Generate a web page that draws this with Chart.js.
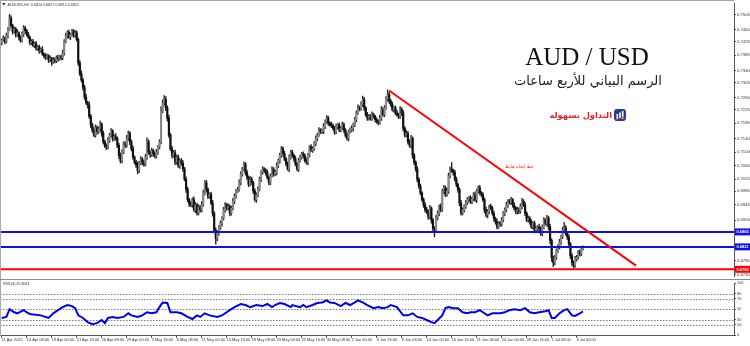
<!DOCTYPE html>
<html>
<head>
<meta charset="utf-8">
<script src="https://cdn.jsdelivr.net/npm/chart.js@4.4.1/dist/chart.umd.min.js"></script>
<style>
html, body { margin: 0; padding: 0; background: #fff; }
#wrap { position: relative; width: 750px; height: 346px; overflow: hidden; background: #fff; }
#main { position: absolute; left: 0; top: 0; }
#rsi { position: absolute; left: 0; top: 280px; }
.txt { position: absolute; white-space: nowrap; }
#pair { left: 487px; top: 44px; width: 200px; text-align: center; font: 25px/25px "Liberation Serif", serif; color: #111; }
#sub { left: 488px; top: 73px; width: 200px; text-align: center; font: 13px/16px "DejaVu Sans", sans-serif; color: #222; direction: rtl; }
#brand { left: 520px; top: 109px; width: 92px; text-align: right; font: bold 8.3px/12px "DejaVu Sans", sans-serif; color: #e8212e; direction: rtl; }
#logo { position: absolute; left: 614px; top: 108px; }
</style>
</head>
<body>
<div id="wrap">
  <canvas id="main" width="750" height="280"></canvas>
  <canvas id="rsi" width="750" height="66"></canvas>
  <div class="txt" id="pair">AUD / USD</div>
  <div class="txt" id="sub">الرسم البياني للأربع ساعات</div>
  <div class="txt" id="brand">التداول بسهولة</div>
  <svg id="logo" width="12" height="14" viewBox="0 0 12 14">
    <rect x="0" y="1" width="12" height="12" rx="3" fill="#1f3f9a"/>
    <rect x="2.5" y="6" width="1.6" height="5" fill="#fff"/>
    <rect x="5.2" y="4.5" width="1.6" height="6.5" fill="#fff"/>
    <rect x="7.9" y="3" width="1.6" height="8" fill="#fff"/>
    <path d="M1 12 L11 9" stroke="#e8212e" stroke-width="1.2"/>
  </svg>
</div>
<script>
// AUDUSD H4, 11 Apr 2022 -> 6 Jul 2022, one close per 4h bar (open = previous close)
var firstOpen = 0.7420;
var closes = [
  0.7429,0.7436,0.7425,0.7442,0.7461,0.7494,0.7472,0.7455,0.7462,0.7444,
  0.7451,0.7437,0.7428,0.7446,0.7465,0.7457,0.7446,0.7438,0.7422,0.7426,
  0.7414,0.7419,0.7405,0.7410,0.7398,0.7402,0.7389,0.7384,0.7378,0.7383,
  0.7371,0.7376,0.7365,0.7372,0.7368,0.7379,0.7374,0.7381,0.7377,0.7392,
  0.7425,0.7441,0.7452,0.7439,0.7446,0.7455,0.7443,0.7450,0.7431,0.7362,
  0.7330,0.7312,0.7290,0.7262,0.7245,0.7238,0.7205,0.7180,0.7165,0.7150,
  0.7172,0.7160,0.7168,0.7182,0.7155,0.7130,0.7118,0.7115,0.7135,0.7150,
  0.7162,0.7140,0.7145,0.7140,0.7120,0.7090,0.7075,0.7100,0.7125,0.7120,
  0.7140,0.7155,0.7130,0.7110,0.7085,0.7070,0.7062,0.7045,0.7068,0.7080,
  0.7070,0.7064,0.7085,0.7130,0.7100,0.7092,0.7105,0.7095,0.7088,0.7100,
  0.7115,0.7130,0.7220,0.7244,0.7255,0.7230,0.7200,0.7150,0.7110,0.7090,
  0.7098,0.7070,0.7085,0.7060,0.7075,0.7067,0.7050,0.7020,0.6990,0.6960,
  0.6948,0.6945,0.6960,0.6930,0.6945,0.6920,0.6938,0.6930,0.6945,0.6980,
  0.7010,0.6990,0.6970,0.6976,0.6950,0.6920,0.6870,0.6845,0.6860,0.6878,
  0.6890,0.6905,0.6930,0.6945,0.6935,0.6940,0.6920,0.6935,0.6955,0.6970,
  0.6985,0.6990,0.7010,0.7035,0.7050,0.7065,0.7040,0.7025,0.7005,0.7020,
  0.7010,0.6985,0.6960,0.6975,0.6990,0.7020,0.7040,0.7050,0.7045,0.7040,
  0.7025,0.7010,0.7030,0.7050,0.7035,0.7040,0.7060,0.7075,0.7090,0.7110,
  0.7095,0.7080,0.7065,0.7050,0.7085,0.7100,0.7090,0.7080,0.7065,0.7050,
  0.7075,0.7085,0.7095,0.7090,0.7075,0.7070,0.7090,0.7115,0.7105,0.7110,
  0.7125,0.7140,0.7150,0.7165,0.7160,0.7162,0.7175,0.7190,0.7200,0.7185,
  0.7180,0.7178,0.7170,0.7160,0.7175,0.7180,0.7165,0.7170,0.7180,0.7165,
  0.7150,0.7140,0.7160,0.7165,0.7170,0.7180,0.7195,0.7215,0.7230,0.7228,
  0.7240,0.7255,0.7230,0.7210,0.7200,0.7205,0.7198,0.7210,0.7205,0.7195,
  0.7190,0.7186,0.7200,0.7225,0.7210,0.7230,0.7255,0.7270,0.7250,0.7240,
  0.7225,0.7230,0.7215,0.7210,0.7205,0.7225,0.7215,0.7170,0.7150,0.7155,
  0.7130,0.7120,0.7140,0.7090,0.7070,0.7050,0.7020,0.7000,0.6980,0.6960,
  0.6945,0.6930,0.6925,0.6910,0.6935,0.6900,0.6875,0.6870,0.6905,0.6920,
  0.6940,0.6930,0.6985,0.6995,0.6975,0.6985,0.7030,0.7050,0.7045,0.7040,
  0.7020,0.7005,0.6990,0.6950,0.6920,0.6930,0.6940,0.6950,0.6960,0.6965,
  0.6955,0.6962,0.6975,0.6960,0.6985,0.6995,0.6980,0.6975,0.6960,0.6930,
  0.6915,0.6925,0.6940,0.6935,0.6920,0.6905,0.6895,0.6880,0.6890,0.6888,
  0.6900,0.6920,0.6930,0.6945,0.6955,0.6952,0.6960,0.6945,0.6935,0.6925,
  0.6930,0.6925,0.6940,0.6955,0.6945,0.6920,0.6900,0.6905,0.6895,0.6880,
  0.6890,0.6870,0.6875,0.6880,0.6875,0.6860,0.6880,0.6900,0.6890,0.6905,
  0.6880,0.6840,0.6790,0.6775,0.6790,0.6810,0.6820,0.6835,0.6850,0.6870,
  0.6878,0.6860,0.6850,0.6830,0.6795,0.6775,0.6768,0.6785,0.6790,0.6805,
  0.6800,0.6815,0.6821
];
// wick lengths beyond the body, in pips
var wickUp = [
  4,6,3,8,5,11,7,4,6,5,9,3,6,8,7,5,4,6,3,5,
  6,4,7,3,5,4,8,3,6,5,4,7,3,6,5,4,6,3,5,8,
  6,9,5,7,4,6,5,8,6,4,7,9,5,6,8,4,10,6,5,7,
  8,5,6,9,4,7,5,6,8,5,7,4,6,9,5,6,8,7,5,6,
  9,7,5,6,8,4,6,9,5,7,4,6,8,12,6,5,7,4,6,8,
  5,7,14,10,11,8,6,9,5,7,6,8,5,7,4,6,8,5,6,7,
  4,6,5,8,6,4,7,5,9,8,6,7,5,4,6,8,5,7,9,6,
  8,5,7,6,4,8,5,6,9,7,5,6,8,7,5,6,4,7,5,8,
  6,4,7,5,8,6,5,7,4,6,8,5,6,7,4,6,8,5,7,6,
  5,8,4,6,7,5,6,4,8,5,7,6,4,6,5,8,6,4,7,5,
  6,8,5,7,4,6,9,5,7,6,4,8,5,6,7,4,6,5,8,6,
  4,7,5,6,8,5,7,6,9,5,8,10,6,4,7,5,6,8,5,4,
  6,5,8,9,6,7,8,13,6,5,7,4,6,8,5,9,6,7,5,8,
  6,7,9,5,6,4,7,5,6,4,5,6,7,5,8,4,5,6,9,7,
  5,8,6,7,5,9,8,6,19,5,7,6,4,5,8,6,5,7,6,4,
  7,5,6,8,6,5,7,4,6,5,8,6,4,7,5,6,4,8,5,6,
  7,5,6,8,5,6,7,4,6,5,7,6,8,9,5,6,4,7,5,6,
  5,7,6,4,8,5,6,7,5,9,6,7,5,4,6,5,7,8,6,9,
  15,6,5,7,4,6,5,8,6,5,7,4,3
];
var wickDn = [
  5,3,7,4,6,3,5,8,4,6,3,7,5,4,6,8,5,4,7,6,
  4,7,5,6,8,4,5,7,6,4,8,5,10,4,6,5,7,4,6,5,
  7,4,6,5,8,4,6,5,4,7,5,6,8,7,5,9,6,8,7,5,
  6,8,5,7,9,6,5,8,6,7,5,8,6,5,7,9,8,6,5,7,
  6,5,8,7,6,5,7,9,6,5,8,6,5,7,6,8,5,7,6,5,
  7,6,5,4,6,8,9,7,6,8,5,7,6,5,8,6,7,5,9,6,
  8,6,7,5,8,6,5,7,6,4,6,8,7,6,5,9,8,16,6,5,
  6,8,5,7,6,5,8,6,5,7,6,4,5,7,6,5,8,6,7,5,
  6,7,5,8,6,4,7,5,6,8,5,7,6,4,6,5,7,6,8,5,
  7,5,6,4,8,6,5,7,6,5,8,4,6,7,5,6,8,5,4,6,
  5,6,7,4,6,5,8,6,5,7,4,6,5,8,6,7,5,6,4,7,
  6,5,7,4,6,8,5,6,4,7,5,6,8,5,7,6,4,5,6,7,
  5,6,4,7,5,6,4,5,7,6,5,8,6,5,7,6,9,8,6,5,
  7,6,8,9,7,6,8,7,6,5,8,7,6,8,5,9,7,20,6,5,
  7,6,5,8,6,5,7,6,5,8,6,7,9,8,6,5,7,6,5,8,
  6,7,5,6,8,5,6,7,5,8,6,9,7,5,6,8,7,6,5,7,
  6,5,7,6,8,5,6,7,5,6,8,6,5,7,6,8,5,6,7,5,
  6,8,5,7,6,5,7,6,5,8,9,10,12,12,7,6,5,6,7,5,
  6,5,7,8,9,10,10,7,6,5,6,5,4
];

// RSI: bar index and value
var rsiBars = [0,3,5,8,10,14,17,19,25,28,30,33,36,39,42,45,47,49,52,55,
  58,61,64,66,68,71,74,78,81,83,87,90,93,96,99,101,103,106,108,112,
  115,119,122,125,127,130,133,138,141,144,146,149,153,156,159,163,167,170,173,175,
  178,181,185,186,191,193,195,199,202,205,208,210,213,217,220,223,226,228,231,234,
  238,241,244,247,249,253,257,260,263,266,269,272,275,277,279,282,284,286,289,292,
  295,298,300,303,306,308,311,314,317,319,322,325,328,332,335,338,341,344,348,350,
  352,354,357,360,362,365,367,370,372];
var rsiValues = [33,35,50,44,42,48,42,40,38,35,33,42,48,54,58,56,52,38,33,25,
  21,23,29,23,33,35,33,35,42,38,35,38,44,42,44,54,63,62,44,44,
  42,35,31,38,35,42,38,35,38,44,48,54,60,58,54,58,56,60,54,58,
  62,60,54,58,54,58,54,58,62,63,67,63,62,56,62,58,63,67,63,58,
  52,54,52,54,58,54,38,38,42,35,33,29,25,23,29,38,52,54,52,52,
  44,42,44,44,48,44,38,42,42,42,44,48,50,48,52,44,42,44,46,48,
  33,33,42,48,50,38,37,42,45.8];

var priceTicks = [0.7505,0.7460,0.7425,0.7385,0.7340,0.7305,0.7260,0.7225,0.7185,0.7140,
  0.7100,0.7060,0.7020,0.6985,0.6945,0.6900,0.6860,0.6820,0.6780,0.6740];
var rsiTicks = [0,20,30,50,70,80,100];
var rsiLevels = [20,30,50,70,80];
var timeLabels = ['11 Apr 2022','14 Apr 08:00','19 Apr 00:00','21 Apr 16:00','26 Apr 08:00',
  '29 Apr 00:00','3 May 16:00','6 May 08:00','11 May 00:00','13 May 16:00','18 May 08:00',
  '23 May 00:00','25 May 16:00','30 May 08:00','2 Jun 00:00','6 Jun 16:00','9 Jun 08:00',
  '14 Jun 00:00','16 Jun 16:00','21 Jun 08:00','24 Jun 00:00','28 Jun 16:00','1 Jul 08:00',
  '6 Jul 00:00'];
var barsPerLabel = 16;

var levelPrices = [0.6865, 0.6821, 0.6755];
var trendBars = [247.9, 406];
var trendPrices = [0.7281, 0.6766];

var headerText = 'AUDUSD,H4  0.6814 0.6822 0.6812 0.6821';
var rsiTitle = 'RSI(14) 45.8043';
var trendText = 'خط إتجاه هابط';

// ---------------------------------------------------------------
var X_MIN = -1.1, X_MAX = 468.7;
var levelColors = ['#1010e0', '#1010e0', '#ff0000'];

var opens = closes.map(function (c, i) { return i === 0 ? firstOpen : closes[i - 1]; });
var highs = closes.map(function (c, i) { return Math.max(opens[i], c) + wickUp[i] / 10000; });
var lows = closes.map(function (c, i) { return Math.min(opens[i], c) - wickDn[i] / 10000; });

Chart.defaults.animation = false;
Chart.defaults.font.family = '"Liberation Sans", Arial, sans-serif';
Chart.defaults.plugins.legend.display = false;
Chart.defaults.plugins.tooltip.enabled = false;

var levelSets = levelPrices.map(function (p, k) {
  return {
    type: 'line',
    data: [{ x: X_MIN, y: p }, { x: X_MAX, y: p }],
    borderColor: levelColors[k],
    borderWidth: 2,
    pointRadius: 0,
    order: 0
  };
});

var mainDecor = {
  id: 'mainDecor',
  afterDraw: function (chart) {
    var ctx = chart.ctx, ys = chart.scales.y, a = chart.chartArea;
    ctx.save();
    ctx.fillStyle = '#a8a8a8';
    ctx.fillRect(0, 0, a.right, 1);
    ctx.fillRect(0, 0, 1, 280);
    ctx.fillStyle = '#8c8c8c';
    ctx.fillRect(0, 279, 750, 1);
    // header line
    ctx.fillStyle = '#333';
    ctx.beginPath();
    ctx.moveTo(2, 3); ctx.lineTo(5.5, 3); ctx.lineTo(3.75, 5.5); ctx.closePath();
    ctx.fill();
    ctx.font = '3.7px "Liberation Sans"';
    ctx.textBaseline = 'middle';
    ctx.textAlign = 'left';
    ctx.fillText(headerText, 7.5, 4.5);
    // price boxes on the axis
    ctx.font = 'bold 4px "Liberation Sans"';
    levelPrices.forEach(function (p, k) {
      var y = ys.getPixelForValue(p);
      ctx.fillStyle = levelColors[k];
      ctx.fillRect(a.right + 1, y - 3.5, 15, 7);
      ctx.fillStyle = '#fff';
      ctx.fillText(p.toFixed(4), a.right + 2.5, y + 0.3);
    });
    // trend label
    ctx.fillStyle = '#ff2020';
    ctx.font = '4.6px "DejaVu Sans"';
    ctx.direction = 'rtl';
    ctx.textAlign = 'right';
    ctx.fillText(trendText, 534, 167);
    ctx.restore();
  }
};

new Chart(document.getElementById('main'), {
  type: 'bar',
  data: {
    datasets: [
      {
        data: closes.map(function (c, i) { return { x: i, y: [lows[i], highs[i]] }; }),
        backgroundColor: '#262626',
        barThickness: 0.75,
        grouped: false,
        order: 3
      },
      {
        data: closes.map(function (c, i) { return { x: i, y: [Math.min(opens[i], c), Math.max(opens[i], c)] }; }),
        backgroundColor: closes.map(function (c, i) { return c >= opens[i] ? '#888888' : '#111111'; }),
        barThickness: 1.5,
        minBarLength: 1,
        grouped: false,
        order: 2
      },
      {
        type: 'line',
        data: trendBars.map(function (b, k) { return { x: b, y: trendPrices[k] }; }),
        borderColor: '#ff0000',
        borderWidth: 2,
        pointRadius: 0,
        order: 0
      }
    ].concat(levelSets)
  },
  options: {
    responsive: false,
    events: [],
    layout: { padding: { top: 3, bottom: 1, left: 0, right: 0 } },
    scales: {
      x: { type: 'linear', min: X_MIN, max: X_MAX, offset: false, display: false },
      y: {
        position: 'right',
        min: 0.67339,
        max: 0.75370,
        afterFit: function (s) { s.width = 16; },
        afterBuildTicks: function (s) { s.ticks = priceTicks.map(function (v) { return { value: v }; }); },
        ticks: {
          autoSkip: false,
          padding: 1,
          color: '#333',
          font: { size: 4.2 },
          callback: function (v) { return Number(v).toFixed(4); }
        },
        grid: { drawOnChartArea: false, tickLength: 2, color: '#555' },
        border: { color: '#555' }
      }
    }
  },
  plugins: [mainDecor]
});

var rsiDecor = {
  id: 'rsiDecor',
  beforeDatasetsDraw: function (chart) {
    var ctx = chart.ctx, ys = chart.scales.y, a = chart.chartArea;
    ctx.save();
    ctx.strokeStyle = '#7a7a7a';
    ctx.lineWidth = 1;
    ctx.setLineDash([1.5, 1.5]);
    rsiLevels.forEach(function (v) {
      var y = Math.round(ys.getPixelForValue(v)) + 0.5;
      ctx.beginPath(); ctx.moveTo(a.left, y); ctx.lineTo(a.right, y); ctx.stroke();
    });
    ctx.restore();
  },
  afterDraw: function (chart) {
    var ctx = chart.ctx;
    ctx.save();
    ctx.fillStyle = '#a8a8a8';
    ctx.fillRect(0, 0, 1, 56);
    ctx.fillStyle = '#333';
    ctx.font = '3.6px "Liberation Sans"';
    ctx.textBaseline = 'middle';
    ctx.fillText(rsiTitle, 3, 3.8);
    ctx.restore();
  }
};

new Chart(document.getElementById('rsi'), {
  type: 'line',
  data: {
    datasets: [{
      data: rsiBars.map(function (b, k) { return { x: b, y: rsiValues[k] }; }),
      borderColor: '#0000f0',
      borderWidth: 2,
      pointRadius: 0,
      tension: 0
    }]
  },
  options: {
    responsive: false,
    events: [],
    layout: { padding: { top: 3, bottom: 0, left: 0, right: 0 } },
    scales: {
      x: {
        type: 'linear',
        min: X_MIN,
        max: X_MAX,
        afterFit: function (s) { s.height = 11; },
        afterBuildTicks: function (s) {
          s.ticks = timeLabels.map(function (t, k) { return { value: k * barsPerLabel }; });
        },
        ticks: {
          autoSkip: false,
          maxRotation: 0,
          align: 'start',
          padding: 0,
          color: '#333',
          font: { size: 3.9 },
          callback: function (v, idx) { return timeLabels[idx]; }
        },
        grid: { drawOnChartArea: false, tickLength: 3, color: '#555' },
        border: { color: '#555' }
      },
      y: {
        position: 'right',
        min: 0,
        max: 100,
        afterFit: function (s) { s.width = 16; },
        afterBuildTicks: function (s) { s.ticks = rsiTicks.map(function (v) { return { value: v }; }); },
        ticks: { autoSkip: false, padding: 1, color: '#333', font: { size: 3.9 } },
        grid: { drawOnChartArea: false, tickLength: 2, color: '#555' },
        border: { color: '#555' }
      }
    }
  },
  plugins: [rsiDecor]
});
</script>
</body>
</html>
